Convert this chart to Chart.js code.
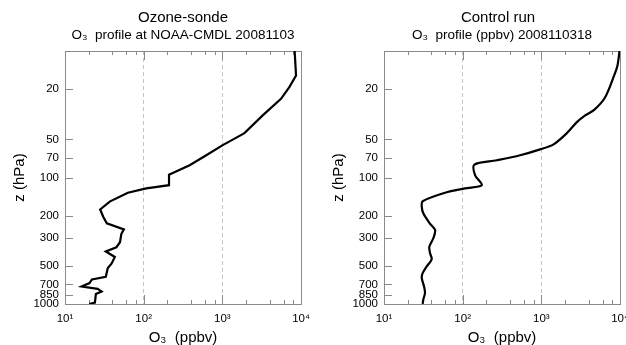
<!DOCTYPE html>
<html lang="en">
<head>
<meta charset="UTF-8">
<title>Ozone profiles</title>
<script src="https://cdn.jsdelivr.net/npm/chart.js"></script>
<style>
  html, body { margin: 0; padding: 0; background: #fff; }
  body { width: 626px; height: 345px; overflow: hidden; position: relative; }
  canvas { position: absolute; top: 0; }
  #sondeChart { left: 0; }
  #modelChart { left: 319px; }
</style>
</head>
<body>
<canvas id="sondeChart" width="313" height="345"></canvas>
<canvas id="modelChart" width="313" height="345"></canvas>
<script>
// ozone-sonde profile (left panel), hPa / ppbv
const sondePressure = [10, 15.6, 19.3, 23.9, 32.3, 44.6, 55.7, 66.7, 80, 95, 115, 122, 132, 155, 179, 204, 230, 257, 280, 325, 356, 385, 425, 480, 520, 610, 640, 684, 727, 760, 796, 835, 975, 1000];
const sondeOzone = [8300, 8650, 7110, 5570, 3260, 1910, 1000, 625, 384, 210, 210, 108, 63, 37, 28, 30.6, 34, 56, 52, 50, 45, 33, 43, 39, 35, 33, 22, 20.5, 16.3, 26, 29.2, 24.7, 24, 20.3];

// control run profile (right panel)
const modelPressure = [10, 13, 15.6, 23.2, 29.2, 32.3, 36.5, 44.6, 54.7, 59.9, 66.7, 73.1, 79, 96, 115, 122, 132, 154, 170, 192, 228, 260, 302, 352, 397, 442, 505, 570, 624, 727, 818, 922, 1000];
const modelOzone = [9860, 9290, 8430, 6480, 4700, 3610, 2830, 2110, 1430, 966, 537, 272, 141, 144, 175, 107, 59.7, 31, 30.2, 31.6, 37.7, 44.6, 42.4, 37.7, 38.5, 40.4, 34.9, 31, 30.2, 32.3, 33.2, 31.6, 31];

const xTicks = [10, 100, 1000, 10000];
const xTickLabels = ['10¹', '10²', '10³', '10⁴'];
const xMinorTicks = [20, 40, 60, 80, 200, 400, 600, 800, 2000, 4000, 6000, 8000];
const yTicks = [20, 50, 70, 100, 200, 300, 500, 700, 850, 1000];
const yTickLabels = ['20', '50', '70', '100', '200', '300', '500', '700', '850', '1000'];

const FONT = "'Liberation Sans', Arial, Helvetica, sans-serif";
const AXIS_GRAY = '#8a8a8a';

// frame, inward tick marks and the two title lines
const framePlugin = {
    id: 'frame',
    beforeDatasetsDraw(chart) {
        const { ctx, chartArea: a, scales: { x, y } } = chart;
        ctx.save();
        ctx.strokeStyle = AXIS_GRAY;
        ctx.lineWidth = 1;
        ctx.beginPath();
        xMinorTicks.forEach(v => {
            const px = Math.round(x.getPixelForValue(v)) + 0.5;
            ctx.moveTo(px, a.top); ctx.lineTo(px, a.top + 4);
            ctx.moveTo(px, a.bottom); ctx.lineTo(px, a.bottom - 4);
        });
        xTicks.slice(1, -1).forEach(v => {
            const px = Math.round(x.getPixelForValue(v)) + 0.5;
            ctx.moveTo(px, a.top); ctx.lineTo(px, a.top + 9);
            ctx.moveTo(px, a.bottom); ctx.lineTo(px, a.bottom - 9);
        });
        yTicks.forEach(v => {
            const py = Math.round(y.getPixelForValue(v)) + 0.5;
            ctx.moveTo(a.left, py); ctx.lineTo(a.left + 8, py);
        });
        ctx.stroke();
        ctx.strokeRect(Math.round(a.left) + 0.5, Math.round(a.top) + 0.5,
            Math.round(a.right - a.left), Math.round(a.bottom - a.top));
        ctx.restore();
    },
    afterDraw(chart, args, opts) {
        const { ctx, chartArea: a } = chart;
        const cx = (a.left + a.right) / 2;
        ctx.save();
        ctx.fillStyle = '#000';
        ctx.textAlign = 'center';
        ctx.textBaseline = 'middle';
        ctx.font = '15px ' + FONT;
        ctx.fillText(opts.title, cx + opts.titleShift, 18);
        ctx.font = '13.5px ' + FONT;
        ctx.fillText(opts.subtitle, cx, 35);
        ctx.restore();
    }
};

function makeChart(canvasId, pressure, ozone, tension, title, subtitle, titleShift) {
    const points = pressure.map((p, i) => ({ x: ozone[i], y: p }));

    const config = {
        type: 'scatter',
        data: {
            datasets: [{
                data: points,
                showLine: true,
                borderColor: '#000',
                borderWidth: 2.2,
                pointRadius: 0,
                tension: tension
            }]
        },
        options: {
            responsive: false,
            animation: false,
            devicePixelRatio: 1,
            layout: { padding: { top: 51, right: 12, left: 0, bottom: 0 } },
            plugins: {
                legend: { display: false },
                tooltip: { enabled: false },
                frame: { title: title, subtitle: subtitle, titleShift: titleShift }
            },
            scales: {
                x: {
                    type: 'logarithmic',
                    min: 10,
                    max: 10000,
                    afterBuildTicks: scale => { scale.ticks = xTicks.map(v => ({ value: v })); },
                    afterFit: scale => {
                        scale.height = 41;
                        scale.paddingLeft = 0;
                        scale.paddingRight = 0;
                    },
                    border: { display: false, dash: [4, 3] },
                    grid: {
                        drawTicks: false,
                        color: c => (c.tick && (c.tick.value === 100 || c.tick.value === 1000)) ? '#c4c4c4' : 'rgba(0,0,0,0)'
                    },
                    ticks: {
                        autoSkip: false,
                        maxRotation: 0,
                        padding: 8,
                        color: '#000',
                        font: { family: FONT, size: 11.5 },
                        callback: (v, i) => xTickLabels[i]
                    },
                    title: {
                        display: true,
                        text: 'O₃  (ppbv)',
                        color: '#000',
                        font: { family: FONT, size: 15, lineHeight: 1 },
                        padding: { top: 0, bottom: 0 }
                    }
                },
                y: {
                    type: 'logarithmic',
                    min: 10,
                    max: 1000,
                    reverse: true,
                    afterBuildTicks: scale => { scale.ticks = yTicks.map(v => ({ value: v })); },
                    afterFit: scale => {
                        scale.width = 65;
                        scale.paddingTop = 0;
                        scale.paddingBottom = 0;
                    },
                    border: { display: false },
                    grid: { drawTicks: false, drawOnChartArea: false },
                    ticks: {
                        autoSkip: false,
                        padding: 6,
                        color: '#000',
                        font: { family: FONT, size: 11.5 },
                        callback: (v, i) => yTickLabels[i]
                    },
                    title: {
                        display: true,
                        text: 'z (hPa)',
                        color: '#000',
                        font: { family: FONT, size: 15, lineHeight: 1 },
                        padding: { top: 12.5, bottom: 0 }
                    }
                }
            }
        },
        plugins: [framePlugin]
    };

    const ctx = document.getElementById(canvasId).getContext('2d');
    return new Chart(ctx, config);
}

makeChart('sondeChart', sondePressure, sondeOzone, 0,
    'Ozone-sonde', 'O₃  profile at NOAA-CMDL 20081103', 0);
makeChart('modelChart', modelPressure, modelOzone, 0.3,
    'Control run', 'O₃  profile (ppbv) 2008110318', -4);
</script>
</body>
</html>
